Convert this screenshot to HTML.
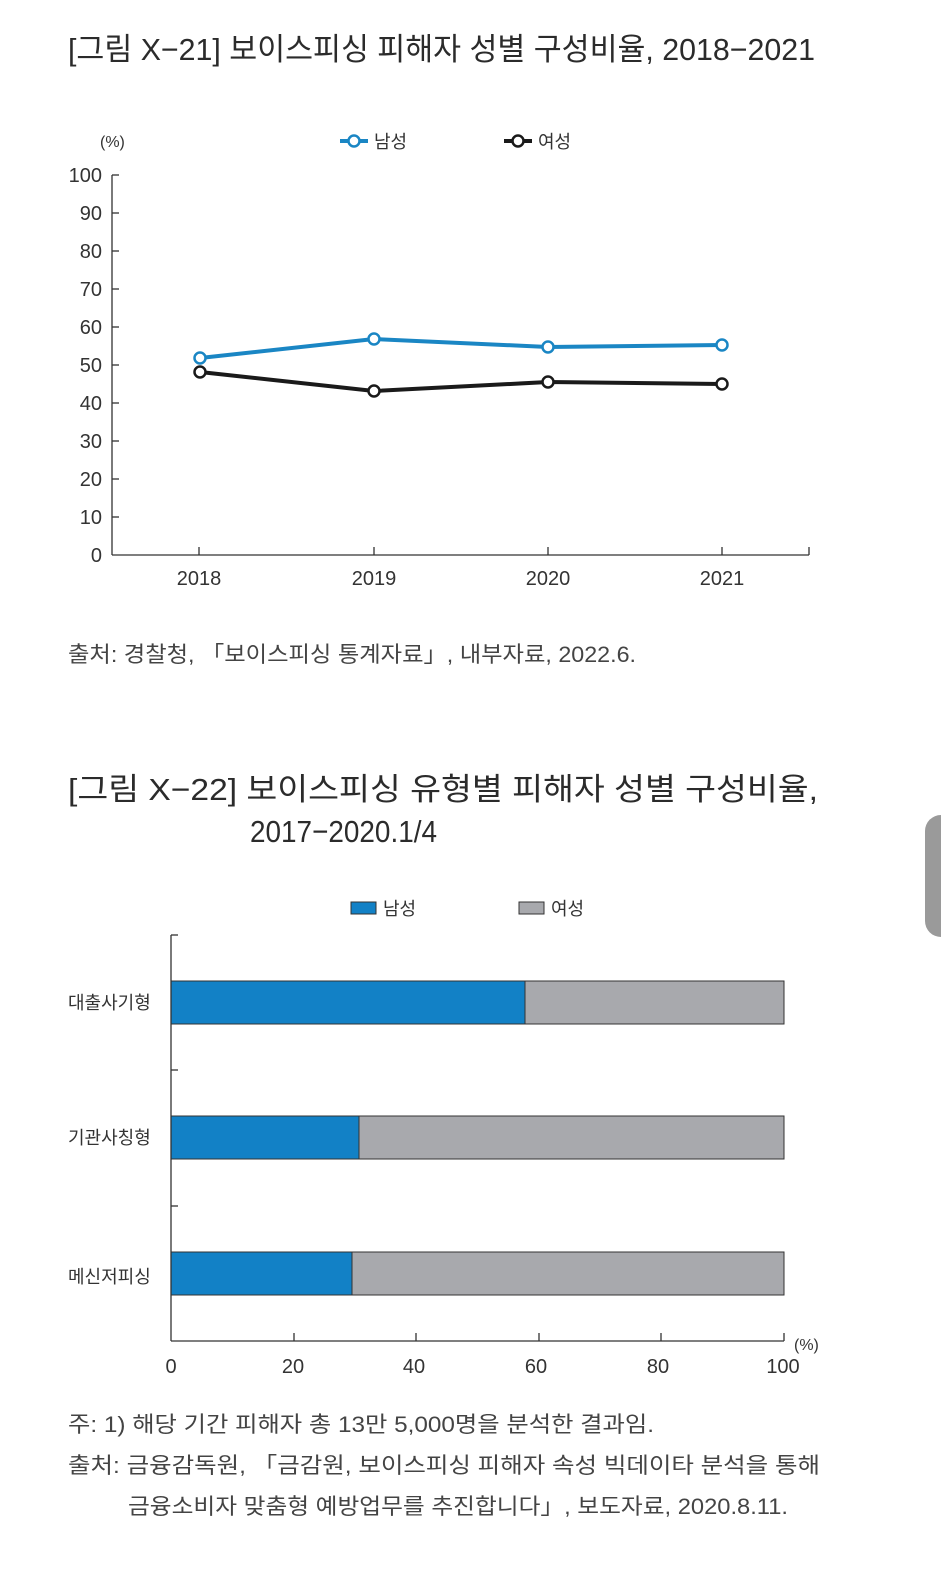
<!DOCTYPE html>
<html><head><meta charset="utf-8"><style>
html,body{margin:0;padding:0;background:#fff;}
svg{display:block;font-family:"Liberation Sans","Noto Sans CJK KR",sans-serif;}
</style></head><body>
<svg width="941" height="1577" viewBox="0 0 941 1577" xmlns="http://www.w3.org/2000/svg">
<rect width="941" height="1577" fill="#fff"/>
<!-- Title 1 -->
<text x="68" y="60" font-size="31" fill="#2b2b2b" textLength="747" lengthAdjust="spacingAndGlyphs">[그림 X−21]  보이스피싱 피해자 성별 구성비율, 2018−2021</text>
<!-- Line chart legend -->
<text x="100" y="147" font-size="16" fill="#333">(%)</text>
<line x1="340" y1="141" x2="368" y2="141" stroke="#1a86c4" stroke-width="4"/>
<circle cx="354" cy="141" r="5.5" fill="#fff" stroke="#1a86c4" stroke-width="2.5"/>
<text x="374" y="148" font-size="18" fill="#333">남성</text>
<line x1="504" y1="141" x2="532" y2="141" stroke="#1a1a1a" stroke-width="4"/>
<circle cx="518" cy="141" r="5.5" fill="#fff" stroke="#1a1a1a" stroke-width="2.5"/>
<text x="538" y="148" font-size="18" fill="#333">여성</text>
<!-- axes -->
<g stroke="#333" stroke-width="1.3" fill="none">
<line x1="112" y1="175" x2="112" y2="555"/>
<line x1="112" y1="555" x2="809" y2="555"/>
<line x1="809" y1="547" x2="809" y2="555"/>
<line x1="112" y1="175" x2="119" y2="175"/><line x1="112" y1="213" x2="119" y2="213"/><line x1="112" y1="251" x2="119" y2="251"/><line x1="112" y1="289" x2="119" y2="289"/><line x1="112" y1="327" x2="119" y2="327"/><line x1="112" y1="365" x2="119" y2="365"/><line x1="112" y1="403" x2="119" y2="403"/><line x1="112" y1="441" x2="119" y2="441"/><line x1="112" y1="479" x2="119" y2="479"/><line x1="112" y1="517" x2="119" y2="517"/>
<line x1="199" y1="547" x2="199" y2="555"/><line x1="374" y1="547" x2="374" y2="555"/><line x1="548" y1="547" x2="548" y2="555"/><line x1="722" y1="547" x2="722" y2="555"/>
</g>
<g font-size="20" fill="#333" text-anchor="end">
<text x="102" y="182">100</text><text x="102" y="220">90</text><text x="102" y="258">80</text><text x="102" y="296">70</text><text x="102" y="334">60</text><text x="102" y="372">50</text><text x="102" y="410">40</text><text x="102" y="448">30</text><text x="102" y="486">20</text><text x="102" y="524">10</text><text x="102" y="562">0</text>
</g>
<g font-size="20" fill="#333" text-anchor="middle">
<text x="199" y="585">2018</text><text x="374" y="585">2019</text><text x="548" y="585">2020</text><text x="722" y="585">2021</text>
</g>
<polyline points="200,358 374,339 548,347 722,345" fill="none" stroke="#1a86c4" stroke-width="4"/>
<polyline points="200,372 374,391 548,382 722,384" fill="none" stroke="#1a1a1a" stroke-width="4"/>
<g fill="#fff" stroke="#1a86c4" stroke-width="2.5">
<circle cx="200" cy="358" r="5.5"/><circle cx="374" cy="339" r="5.5"/><circle cx="548" cy="347" r="5.5"/><circle cx="722" cy="345" r="5.5"/>
</g>
<g fill="#fff" stroke="#1a1a1a" stroke-width="2.5">
<circle cx="200" cy="372" r="5.5"/><circle cx="374" cy="391" r="5.5"/><circle cx="548" cy="382" r="5.5"/><circle cx="722" cy="384" r="5.5"/>
</g>
<text x="68" y="662" font-size="22" fill="#444" textLength="568" lengthAdjust="spacingAndGlyphs">출처: 경찰청, 「보이스피싱 통계자료」, 내부자료, 2022.6.</text>
<!-- Title 2 -->
<text x="68" y="800" font-size="31" fill="#2b2b2b" textLength="750" lengthAdjust="spacingAndGlyphs">[그림 X−22] 보이스피싱 유형별 피해자 성별 구성비율,</text>
<text x="250" y="842" font-size="31" fill="#2b2b2b" textLength="187" lengthAdjust="spacingAndGlyphs">2017−2020.1/4</text>
<!-- side tab -->
<rect x="925" y="815" width="40" height="122" rx="16" fill="#9a9a9a"/>
<!-- bar legend -->
<rect x="351" y="902" width="25" height="12" fill="#1281c6" stroke="#333" stroke-width="1"/>
<text x="383" y="915" font-size="18" fill="#333">남성</text>
<rect x="519" y="902" width="25" height="12" fill="#a8a9ad" stroke="#333" stroke-width="1"/>
<text x="551" y="915" font-size="18" fill="#333">여성</text>
<!-- bars -->
<g stroke="#333" stroke-width="1">
<rect x="171" y="981" width="354" height="43" fill="#1281c6"/><rect x="525" y="981" width="259" height="43" fill="#a8a9ad"/>
<rect x="171" y="1116" width="188" height="43" fill="#1281c6"/><rect x="359" y="1116" width="425" height="43" fill="#a8a9ad"/>
<rect x="171" y="1252" width="181" height="43" fill="#1281c6"/><rect x="352" y="1252" width="432" height="43" fill="#a8a9ad"/>
</g>
<g stroke="#333" stroke-width="1.3" fill="none">
<line x1="171" y1="935" x2="171" y2="1341"/><line x1="171" y1="935" x2="178" y2="935"/>
<line x1="171" y1="1070" x2="178" y2="1070"/><line x1="171" y1="1206" x2="178" y2="1206"/>
<line x1="171" y1="1341" x2="784" y2="1341"/>
<line x1="294" y1="1333" x2="294" y2="1341"/><line x1="416" y1="1333" x2="416" y2="1341"/><line x1="539" y1="1333" x2="539" y2="1341"/><line x1="661" y1="1333" x2="661" y2="1341"/><line x1="784" y1="1333" x2="784" y2="1341"/>
</g>
<g font-size="18" fill="#333">
<text x="68" y="1009">대출사기형</text><text x="68" y="1144">기관사칭형</text><text x="68" y="1283">메신저피싱</text>
</g>
<g font-size="20" fill="#333" text-anchor="middle">
<text x="171" y="1373">0</text><text x="293" y="1373">20</text><text x="414" y="1373">40</text><text x="536" y="1373">60</text><text x="658" y="1373">80</text><text x="783" y="1373">100</text>
</g>
<text x="794" y="1350" font-size="16" fill="#333">(%)</text>
<g font-size="22" fill="#444">
<text x="68" y="1432" textLength="586" lengthAdjust="spacingAndGlyphs">주: 1) 해당 기간 피해자 총 13만 5,000명을 분석한 결과임.</text>
<text x="68" y="1473" textLength="752" lengthAdjust="spacingAndGlyphs">출처: 금융감독원, 「금감원, 보이스피싱 피해자 속성 빅데이타 분석을 통해</text>
<text x="128" y="1514" textLength="660" lengthAdjust="spacingAndGlyphs">금융소비자 맞춤형 예방업무를 추진합니다」, 보도자료, 2020.8.11.</text>
</g>
</svg>
</body></html>
